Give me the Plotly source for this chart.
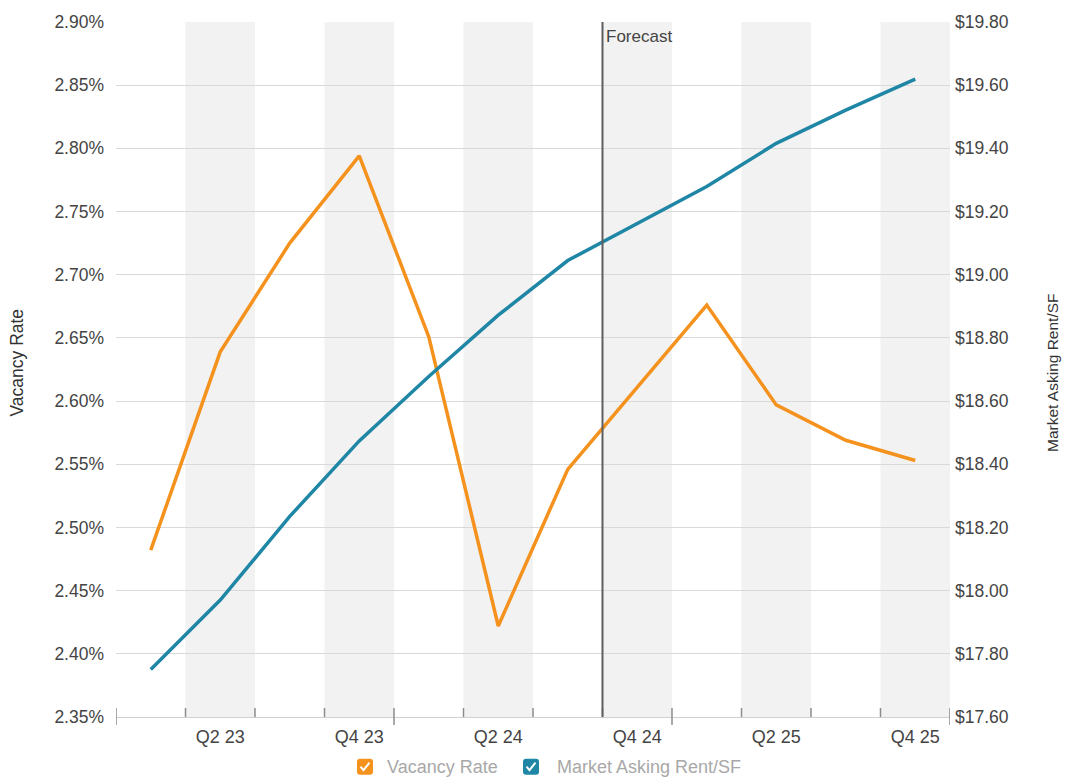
import plotly.graph_objects as go

# Quarterly series
quarters = ["Q1 23", "Q2 23", "Q3 23", "Q4 23",
            "Q1 24", "Q2 24", "Q3 24", "Q4 24",
            "Q1 25", "Q2 25", "Q3 25", "Q4 25"]
vacancy_rate = [2.482, 2.639, 2.725, 2.794, 2.651, 2.422,
                2.546, 2.611, 2.676, 2.597, 2.569, 2.553]
asking_rent = [17.75, 17.97, 18.235, 18.474, 18.678, 18.872,
               19.045, 19.163, 19.279, 19.416, 19.521, 19.619]
forecast_start = "Q4 24"
labelled_quarters = [q for q in quarters if q.startswith(("Q2", "Q4"))]

ORANGE = "#F5921E"
BLUE = "#1F86A5"
FONT = "Liberation Sans, Arial, sans-serif"
TEXT = "#444444"

xs = list(range(len(quarters)))

fig = go.Figure()
fig.add_trace(go.Scatter(
    x=xs, y=vacancy_rate, name="Vacancy Rate", mode="lines",
    line=dict(color=ORANGE, width=3.5), yaxis="y"))
fig.add_trace(go.Scatter(
    x=xs, y=asking_rent, name="Market Asking Rent/SF", mode="lines",
    line=dict(color=BLUE, width=3.5), yaxis="y2"))

shapes = []
# alternating quarter bands
for i, q in enumerate(quarters):
    if i % 2 == 1:
        shapes.append(dict(type="rect", xref="x", yref="paper",
                           x0=i - 0.5, x1=i + 0.5, y0=0, y1=1,
                           fillcolor="#F2F2F2", line=dict(width=0),
                           layer="below"))
# boundary ticks on the bottom axis (longer at year boundaries)
for i in range(len(quarters) + 1):
    long_tick = (i % 4 == 0)
    shapes.append(dict(type="line", xref="x", yref="paper",
                       x0=i - 0.5, x1=i - 0.5,
                       ysizemode="pixel", yanchor=0,
                       y0=-8 if long_tick else 0, y1=9,
                       line=dict(color="#8C8C8C", width=1.5)))
# forecast divider
fx = quarters.index(forecast_start) - 0.5
shapes.append(dict(type="line", xref="x", yref="paper", x0=fx, x1=fx,
                   y0=0, y1=1, line=dict(color="#5E5E5E", width=2)))

# legend swatches with check marks
legend_items = [("Vacancy Rate", ORANGE, 365, 385),
                ("Market Asking Rent/SF", BLUE, 531, 555)]
annotations = []
W, L, T, H = 834, 116, 18, 699
def px_x(p):
    return (p - L) / W
def px_y(p):
    return (T + H - p) / H

box = "M -8,-5 L -8,5 Q -8,8 -5,8 L 5,8 Q 8,8 8,5 L 8,-5 Q 8,-8 5,-8 L -5,-8 Q -8,-8 -8,-5 Z"
for name, color, cx, tx in legend_items:
    shapes.append(dict(type="path", xref="paper", yref="paper",
                       xsizemode="pixel", ysizemode="pixel",
                       xanchor=px_x(cx), yanchor=px_y(767),
                       path=box, fillcolor=color, line=dict(width=0)))
    shapes.append(dict(type="path", xref="paper", yref="paper",
                       xsizemode="pixel", ysizemode="pixel",
                       xanchor=px_x(cx), yanchor=px_y(767),
                       path="M -4.5,0 L -1.5,-3.5 L 4.5,4",
                       line=dict(color="white", width=2)))
    annotations.append(dict(text=name, xref="paper", yref="paper",
                            x=px_x(tx), y=px_y(767), xanchor="left",
                            yanchor="middle", showarrow=False,
                            font=dict(family=FONT, size=18, color="#A8A8A8")))

annotations += [
    dict(text="Forecast", xref="x", yref="paper", x=fx, y=1,
         xanchor="left", yanchor="top", xshift=1, yshift=-3,
         showarrow=False, font=dict(family=FONT, size=17, color="#444444")),
    dict(text="Vacancy Rate", xref="paper", yref="paper", x=px_x(17), y=0.51,
         textangle=-90, xanchor="center", yanchor="middle", showarrow=False,
         font=dict(family=FONT, size=17.5, color="#333333")),
    dict(text="Market Asking Rent/SF", xref="paper", yref="paper",
         x=px_x(1053), y=0.495, textangle=-90, xanchor="center",
         yanchor="middle", showarrow=False,
         font=dict(family=FONT, size=15.5, color="#333333")),
]

fig.update_layout(
    width=1066, height=778,
    margin=dict(l=116, r=116, t=18, b=61),
    paper_bgcolor="white", plot_bgcolor="rgba(0,0,0,0)",
    showlegend=False,
    font=dict(family=FONT, color=TEXT),
    xaxis=dict(range=[-0.5, len(quarters) - 0.5],
               tickvals=[quarters.index(q) for q in labelled_quarters],
               ticktext=labelled_quarters,
               showgrid=False, zeroline=False,
               showline=True, linecolor="#D0D0D0", linewidth=1,
               ticks="", ticklabelstandoff=3,
               tickfont=dict(size=18, color=TEXT)),
    yaxis=dict(range=[2.35, 2.90], dtick=0.05, tick0=2.35,
               tickformat=".2f", ticksuffix="%",
               showgrid=True, gridcolor="#D9D9D9", gridwidth=1,
               zeroline=False, ticks="", ticklabelstandoff=11,
               tickfont=dict(size=17.5, color=TEXT)),
    yaxis2=dict(range=[17.6, 19.8], dtick=0.2, tick0=17.6,
                tickformat=".2f", tickprefix="$",
                overlaying="y", side="right",
                showgrid=False, zeroline=False, ticks="",
                ticklabelstandoff=4,
                tickfont=dict(size=17.5, color=TEXT)),
    shapes=shapes,
    annotations=annotations,
)

fig.write_html("out.html")
